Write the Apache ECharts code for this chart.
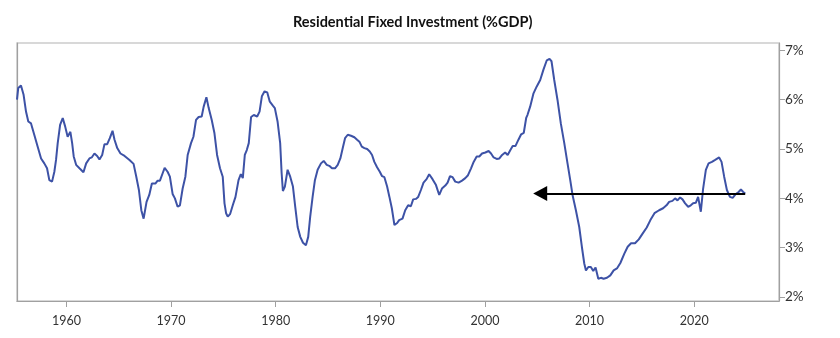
<!DOCTYPE html>
<html>
<head>
<meta charset="utf-8">
<script src="https://cdn.jsdelivr.net/npm/echarts@6/dist/echarts.min.js"></script>
<style>html,body{margin:0;padding:0;background:#fff}#c{width:840px;height:338px}</style>
</head>
<body>
<div id="c"></div>
<script>
const titleText = 'Residential Fixed Investment (%GDP)';
const xTickYears = [1960, 1970, 1980, 1990, 2000, 2010, 2020];
const yTickValues = [2, 3, 4, 5, 6, 7];
const years = [
1955.28,1955.40,1955.66,1955.91,1956.14,1956.36,1956.62,1956.93,1957.25,1957.58,1957.89,1958.15,1958.37,1958.63,1958.85,1959.01,1959.17,1959.40,1959.65,1959.88,
1960.12,1960.38,1960.55,1960.70,1960.93,1961.25,1961.63,1961.89,1962.20,1962.42,1962.68,1962.94,1963.16,1963.42,1963.64,1963.90,1964.15,1964.41,1964.60,1964.86,
1965.17,1965.56,1966.03,1966.42,1966.68,1966.93,1967.16,1967.38,1967.66,1967.92,1968.17,1968.50,1968.72,1968.94,1969.20,1969.39,1969.67,1969.89,
1970.15,1970.37,1970.63,1970.85,1971.11,1971.37,1971.59,1971.91,1972.14,1972.39,1972.64,1972.93,1973.12,1973.38,1973.60,1973.89,1974.15,1974.40,1974.68,1974.94,
1975.11,1975.26,1975.42,1975.64,1975.90,1976.16,1976.45,1976.67,1976.86,1977.05,1977.24,1977.43,1977.65,1977.91,1978.23,1978.46,1978.68,1978.94,1979.19,1979.44,1979.73,1979.92,
1980.18,1980.43,1980.57,1980.69,1980.88,1981.14,1981.39,1981.65,1981.87,1982.10,1982.35,1982.61,1982.89,1983.11,1983.30,1983.53,1983.75,1984.01,1984.33,1984.59,1984.88,
1985.12,1985.38,1985.67,1985.93,1986.18,1986.41,1986.63,1986.89,1987.20,1987.52,1987.78,1988.00,1988.23,1988.48,1988.74,1988.99,1989.21,1989.43,1989.69,1989.95,
1990.17,1990.39,1990.65,1990.87,1991.10,1991.35,1991.61,1991.80,1992.12,1992.38,1992.66,1992.92,1993.14,1993.40,1993.62,1993.88,1994.13,1994.42,1994.67,1994.99,
1995.32,1995.63,1995.89,1996.21,1996.43,1996.66,1996.91,1997.16,1997.48,1997.81,1998.12,1998.38,1998.67,1998.92,1999.21,1999.46,1999.72,
2000.04,2000.35,2000.58,2000.83,2001.12,2001.38,2001.64,2001.93,2002.17,2002.43,2002.65,2002.91,2003.20,2003.46,2003.71,2003.94,2004.06,2004.32,2004.64,2004.95,
2005.28,2005.59,2005.91,2006.17,2006.36,2006.62,2006.93,2007.25,2007.58,2007.89,2008.15,2008.37,2008.69,2009.01,2009.26,2009.49,2009.65,2009.88,
2010.12,2010.35,2010.57,2010.83,2011.08,2011.34,2011.66,2011.98,2012.30,2012.61,2012.94,2013.32,2013.64,2013.96,2014.34,2014.70,
2015.08,2015.46,2015.81,2016.20,2016.64,2017.02,2017.35,2017.60,2017.92,2018.17,2018.40,2018.65,2018.88,2019.13,2019.42,2019.67,2019.89,
2020.15,2020.37,2020.63,2020.85,2021.11,2021.37,2021.69,2022.00,2022.38,2022.61,2022.86,2023.12,2023.41,2023.67,2023.98,2024.24,2024.46,2024.68,2024.87
];
const values = [
6.00,6.24,6.29,6.10,5.76,5.56,5.52,5.29,5.05,4.81,4.71,4.61,4.37,4.34,4.54,4.78,5.12,5.49,5.63,5.46,
5.25,5.35,5.12,4.85,4.68,4.61,4.53,4.71,4.81,4.83,4.91,4.86,4.79,4.88,5.10,5.10,5.22,5.37,5.19,5.02,
4.91,4.86,4.78,4.70,4.44,4.17,3.76,3.59,3.93,4.07,4.30,4.30,4.36,4.36,4.51,4.62,4.54,4.44,
4.09,4.00,3.83,3.86,4.20,4.44,4.88,5.12,5.25,5.59,5.65,5.66,5.86,6.05,5.83,5.59,5.32,4.88,4.61,4.44,
3.90,3.70,3.63,3.68,3.86,4.03,4.37,4.49,4.41,4.88,4.98,5.12,5.65,5.69,5.66,5.76,6.07,6.17,6.15,5.96,5.88,5.83,
5.56,5.12,4.51,4.15,4.24,4.58,4.44,4.24,3.83,3.42,3.22,3.10,3.05,3.22,3.63,4.03,4.37,4.58,4.71,4.76,4.68,
4.66,4.61,4.61,4.68,4.81,5.02,5.22,5.29,5.27,5.24,5.19,5.15,5.05,5.02,5.00,4.95,4.88,4.74,4.63,4.54,
4.45,4.43,4.24,4.03,3.80,3.46,3.50,3.56,3.59,3.76,3.86,3.84,3.98,3.99,4.03,4.17,4.32,4.39,4.49,4.39,
4.27,4.07,4.20,4.26,4.32,4.45,4.43,4.34,4.32,4.36,4.41,4.47,4.61,4.74,4.85,4.85,4.91,
4.93,4.96,4.91,4.83,4.80,4.81,4.88,4.93,4.88,4.98,5.06,5.06,5.19,5.30,5.33,5.63,5.69,5.86,6.13,6.27,
6.40,6.61,6.80,6.83,6.78,6.40,6.00,5.52,5.12,4.71,4.37,4.07,3.76,3.42,3.02,2.68,2.54,2.61,
2.61,2.53,2.60,2.37,2.39,2.37,2.39,2.44,2.54,2.58,2.69,2.88,3.02,3.09,3.09,3.17,
3.29,3.41,3.56,3.70,3.76,3.80,3.86,3.93,3.95,4.00,3.96,4.02,3.98,3.90,3.83,3.86,3.90,
3.91,4.03,3.73,4.20,4.58,4.71,4.74,4.78,4.83,4.74,4.44,4.17,4.03,4.01,4.09,4.13,4.18,4.13,4.10
];
const arrowFrom = [2024.87, 4.10];
const arrowTo = [2005.28, 4.10];

const chart = echarts.init(document.getElementById('c'), null, {renderer: 'canvas'});
const seriesData = years.map((y, i) => [y, values[i]]);
const FONT = 'Lato';
chart.setOption({
  animation: false,
  backgroundColor: '#ffffff',
  title: {
    text: titleText, left: 288, top: 10,
    textStyle: {fontFamily: FONT, fontWeight: 'bold', fontSize: 14.5, color: '#111111'}
  },
  grid: {left: 17, right: 61, top: 43, bottom: 37, show: true, borderColor: '#cccccc', borderWidth: 1.5, backgroundColor: 'transparent'},
  xAxis: {
    type: 'value', min: 1955.28, max: 2028.1,
    axisLine: {show: true, lineStyle: {color: '#a0a0a0', width: 1.2}},
    axisTick: {show: true, customValues: xTickYears, length: 6, lineStyle: {color: '#a0a0a0'}},
    axisLabel: {show: true, customValues: xTickYears, formatter: v => String(Math.round(v)), color: '#333333', fontFamily: FONT, fontSize: 12.5, margin: 13},
    splitLine: {show: false}
  },
  yAxis: [{
    type: 'value', position: 'right', min: 1.92, max: 7.15,
    axisLine: {show: true, lineStyle: {color: '#a0a0a0', width: 1.2}},
    axisTick: {show: true, customValues: yTickValues, length: 6, lineStyle: {color: '#a0a0a0'}},
    axisLabel: {show: true, customValues: yTickValues, formatter: '{value}%', color: '#333333', fontFamily: FONT, fontSize: 13.5, margin: 6},
    splitLine: {show: false}
  }, {
    type: 'value', position: 'left', min: 1.92, max: 7.15,
    axisLine: {show: true, lineStyle: {color: '#a0a0a0', width: 1.2}},
    axisTick: {show: false}, axisLabel: {show: false}, splitLine: {show: false}
  }],
  series: [{
    type: 'line', data: seriesData, yAxisIndex: 0, showSymbol: false, symbol: 'none',
    lineStyle: {color: '#3d52a6', width: 2}, clip: true,
    markLine: {
      silent: true, animation: false,
      lineStyle: {color: '#000000', width: 2, type: 'solid'},
      label: {show: false},
      data: [[
        {coord: arrowFrom, symbol: 'none'},
        {coord: arrowTo, symbol: 'triangle', symbolSize: [15, 14]}
      ]]
    }
  }]
});
</script>
</body>
</html>
